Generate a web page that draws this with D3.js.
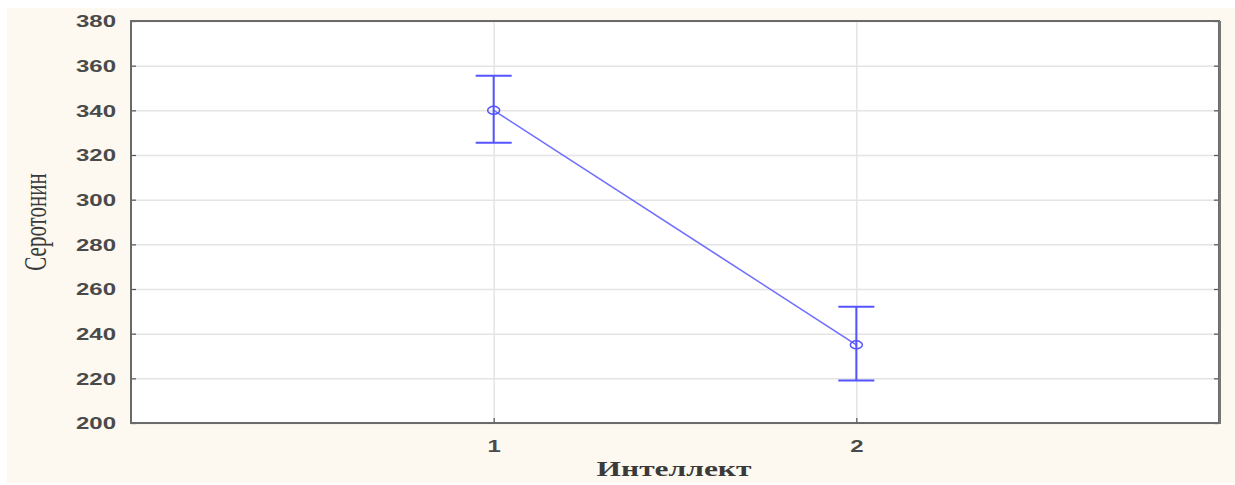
<!DOCTYPE html>
<html><head><meta charset="utf-8">
<script src="https://cdn.jsdelivr.net/npm/d3@7"></script>
<style>body{margin:0;background:#fff}</style>
</head><body>
<svg id="c" width="1235" height="485"></svg>
<script>
const categories = [1, 2];
const means = [340, 235];
const upper = [355.5, 252];
const lower = [325.5, 219];
const yTicks = [200, 220, 240, 260, 280, 300, 320, 340, 360, 380];
const xLabel = "Интеллект";
const yLabel = "Серотонин";

const svg = d3.select("#c");
const L = 131, R = 1219, T = 21, B = 423;
const x = d3.scaleLinear().domain([0, 3]).range([L, R]);
const y = d3.scaleLinear().domain([200, 380]).range([B, T]);

svg.append("rect").attr("x", 7).attr("y", 8).attr("width", 1228).attr("height", 475).attr("fill", "#fdf9f0");
svg.append("rect").attr("x", L).attr("y", T).attr("width", R - L).attr("height", B - T).attr("fill", "#fff");

// gridlines
svg.append("g").attr("transform", `translate(${L},0)`)
  .call(d3.axisLeft(y).tickValues(yTicks).tickSize(-(R - L)).tickFormat(""))
  .call(g => g.select(".domain").remove())
  .call(g => g.selectAll("line").attr("stroke", "#e4e4e4").attr("stroke-width", 1.5));
svg.append("g").attr("transform", `translate(0,${B})`)
  .call(d3.axisBottom(x).tickValues(categories).tickSize(-(B - T)).tickFormat(""))
  .call(g => g.select(".domain").remove())
  .call(g => g.selectAll("line").attr("stroke", "#e4e4e4").attr("stroke-width", 1.5));

// axes with inward ticks
const ya = svg.append("g").attr("transform", `translate(${L},0)`)
  .call(d3.axisLeft(y).tickValues(yTicks).tickSize(-5).tickPadding(0).tickFormat(d3.format("d")));
ya.select(".domain").remove();
ya.selectAll("line").attr("stroke", "#555").attr("stroke-width", 1.2);
ya.selectAll("text").attr("x", null).attr("dy", "0.36em")
  .attr("transform", "translate(-15,0) scale(1.5,1)")
  .attr("font-family", "Liberation Sans, Arial, sans-serif").attr("font-size", 16).attr("font-weight", "bold")
  .attr("fill", "#4a4a4a").attr("text-anchor", "end");

const yr = svg.append("g").attr("transform", `translate(${R},0)`)
  .call(d3.axisRight(y).tickValues(yTicks).tickSize(-5).tickFormat(""));
yr.select(".domain").remove();
yr.selectAll("line").attr("stroke", "#555").attr("stroke-width", 1.2);

const xa = svg.append("g").attr("transform", `translate(0,${B})`)
  .call(d3.axisBottom(x).tickValues(categories).tickSize(-5).tickPadding(0).tickFormat(d3.format("d")));
xa.select(".domain").remove();
xa.selectAll("line").attr("stroke", "#555").attr("stroke-width", 1.2);
xa.selectAll("text").attr("y", 18).attr("dy", "0.71em")
  .attr("transform", "scale(1.5,1)")
  .attr("font-family", "Liberation Sans, Arial, sans-serif").attr("font-size", 16).attr("font-weight", "bold")
  .attr("fill", "#4a4a4a");

// frame
svg.append("rect").attr("x", L).attr("y", T).attr("width", R - L).attr("height", B - T)
  .attr("fill", "none").attr("stroke", "#6a6a6a").attr("stroke-width", 2);
svg.append("line").attr("x1", R + 1).attr("x2", R + 1).attr("y1", T).attr("y2", B + 1)
  .attr("stroke", "#777").attr("stroke-width", 2);

// data
const data = categories.map((c, i) => ({c, m: means[i], u: upper[i], l: lower[i]}));
svg.append("path").datum(data)
  .attr("d", d3.line().x(d => x(d.c)).y(d => y(d.m)))
  .attr("fill", "none").attr("stroke", "#6e6eff").attr("stroke-width", 1.6);
const eb = svg.append("g").attr("stroke", "#5454ff").attr("stroke-width", 2).attr("fill", "none");
eb.selectAll(".v").data(data).join("line")
  .attr("x1", d => x(d.c)).attr("x2", d => x(d.c)).attr("y1", d => y(d.u)).attr("y2", d => y(d.l));
eb.selectAll(".cu").data(data).join("line")
  .attr("x1", d => x(d.c) - 18).attr("x2", d => x(d.c) + 18).attr("y1", d => y(d.u)).attr("y2", d => y(d.u));
eb.selectAll(".cl").data(data).join("line")
  .attr("x1", d => x(d.c) - 18).attr("x2", d => x(d.c) + 18).attr("y1", d => y(d.l)).attr("y2", d => y(d.l));
eb.selectAll("ellipse").data(data).join("ellipse")
  .attr("cx", d => x(d.c)).attr("cy", d => y(d.m)).attr("rx", 6).attr("ry", 4).attr("stroke-width", 1.5);

// axis titles
svg.append("text").attr("transform", `translate(674,476) scale(1.5,1)`)
  .attr("text-anchor", "middle").attr("font-family", "Liberation Serif, Times New Roman, serif")
  .attr("font-size", 21).attr("font-weight", "bold").attr("fill", "#3a3a3a").text(xLabel);
svg.append("text").attr("transform", `translate(46,222) scale(1.5,1) rotate(-90)`)
  .attr("text-anchor", "middle").attr("font-family", "Liberation Serif, Times New Roman, serif")
  .attr("font-size", 21).attr("fill", "#3a3a3a").text(yLabel);
</script>
</body></html>
